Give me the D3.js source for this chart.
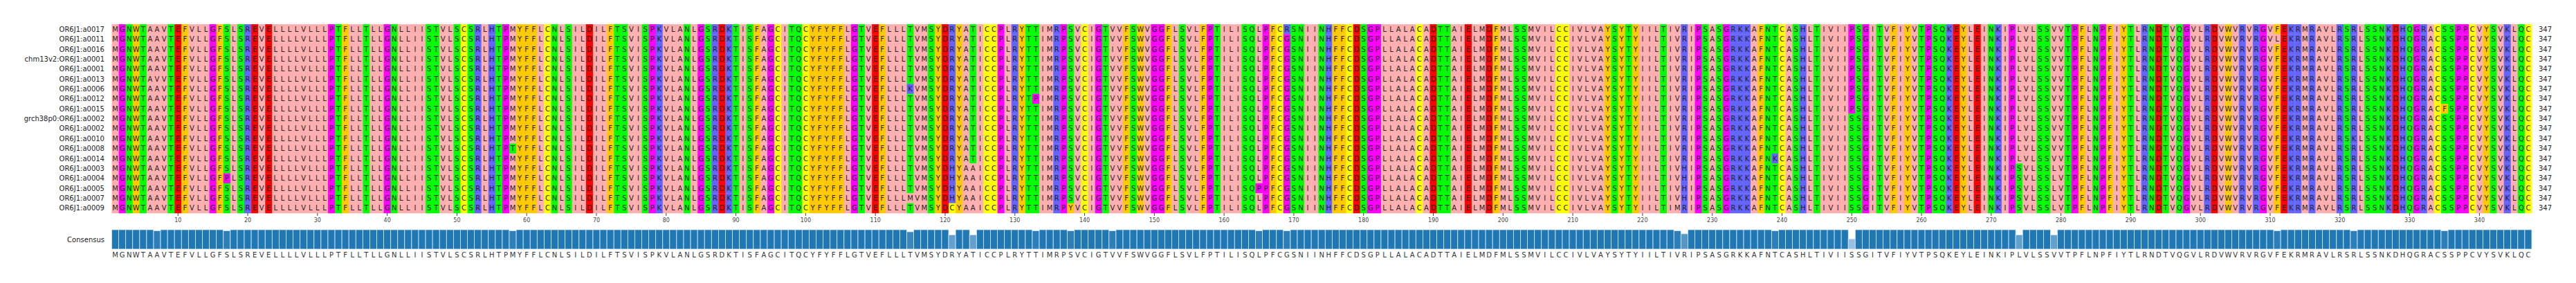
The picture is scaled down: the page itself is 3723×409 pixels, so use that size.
<!DOCTYPE html>
<html>
<head>
<meta charset="utf-8">
<script src="https://cdn.jsdelivr.net/npm/d3@7"></script>
<style>
  body { margin: 0; background: white; }
  text { font-family: "DejaVu Sans", sans-serif; }
</style>
</head>
<body>
<svg id="chart" width="3723" height="409"></svg>
<script>
// sequence names, top to bottom
const names = ["OR6J1:a0017", "OR6J1:a0011", "OR6J1:a0016", "chm13v2:OR6J1:a0001", "OR6J1:a0001",
  "OR6J1:a0013", "OR6J1:a0006", "OR6J1:a0012", "OR6J1:a0015", "grch38p0:OR6J1:a0002", "OR6J1:a0002",
  "OR6J1:a0010", "OR6J1:a0008", "OR6J1:a0014", "OR6J1:a0003", "OR6J1:a0004", "OR6J1:a0005",
  "OR6J1:a0007", "OR6J1:a0009"];

// consensus (most frequent residue per column)
const consensus =
  "MGNWTAAVTEFVLLGFSLSREVELLLLVLLLPTFLLTLLGNLLIISTVLSCSRLHTPM" +
  "YFFLCNLSILDILFTSVISPKVLANLGSRDKTISFAGCITQCYFYFFLGTVEFLLLTV" +
  "MSYDRYATICCPLRYTTIMRPSVCIGTVVFSWVGGFLSVLFPTILISQLPFCGSNII" +
  "NHFFCDSGPLLALACADTTAIELMDFMLSSMVILCCIVLVAYSYTYIILTIVRIPSA" +
  "SGRKKAFNTCASHLTIVIISSGITVFIYVTPSQKEYLEINKIPLVLSSVVTPFLNPFI" +
  "YTLRNDTVQGVLRDVWVRVRGVFEKRMRAVLRSRLSSNKDHQGRACSSPPCVYSVKLQC";

// differences from consensus: [row, column (1-based), residue]
const variants = [
  [5, 7, "V"], [15, 17, "P"], [12, 58, "T"], [6, 115, "K"], [17, 115, "M"],
  [14, 121, "H"], [15, 121, "H"], [16, 121, "H"], [17, 121, "H"], [18, 121, "C"],
  [14, 124, "A"], [15, 124, "A"], [16, 124, "A"], [17, 124, "A"], [18, 124, "A"],
  [7, 133, "P"], [18, 138, "Y"], [2, 144, "I"], [16, 165, "P"], [0, 169, "R"],
  [18, 225, "M"], [14, 226, "H"], [15, 226, "H"], [16, 226, "H"], [17, 226, "H"],
  [13, 239, "K"],
  [0, 250, "P"], [1, 250, "P"], [2, 250, "P"], [3, 250, "P"], [4, 250, "P"],
  [5, 250, "P"], [6, 250, "P"], [7, 250, "P"], [8, 250, "P"],
  [14, 274, "S"], [15, 274, "S"], [16, 274, "S"], [17, 274, "S"], [18, 274, "S"],
  [14, 279, "L"], [15, 279, "L"], [16, 279, "L"], [17, 279, "L"], [18, 279, "L"],
  [1, 311, "L"], [11, 322, "K"], [8, 335, "F"]
];

const tickValues = d3.range(10, 341, 10);

// zappo colours
const zappo = {A: "#ffafaf", V: "#ffafaf", L: "#ffafaf", I: "#ffafaf", M: "#ffafaf",
  F: "#ffc800", W: "#ffc800", Y: "#ffc800",
  G: "#ff00ff", P: "#ff00ff",
  S: "#00ff00", T: "#00ff00", N: "#00ff00", Q: "#00ff00",
  H: "#6464ff", K: "#6464ff", R: "#6464ff",
  D: "#ff0000", E: "#ff0000",
  C: "#ffff00"};

const seqs = names.map(() => consensus.split(""));
variants.forEach(([r, c, a]) => { seqs[r][c - 1] = a; });
const seqLen = consensus.length;
const cols = d3.range(1, seqLen + 1);

const svg = d3.select("#chart");
const x = d3.scaleBand().domain(cols).range([161.5, 3659]);
const y = d3.scaleBand().domain(names).range([35, 308]);

// cells
const cells = [];
seqs.forEach((s, r) => s.forEach((a, i) => cells.push({name: names[r], col: i + 1, aa: a})));

svg.append("g").selectAll("rect")
  .data(cells)
  .join("rect")
  .attr("x", d => x(d.col))
  .attr("y", d => y(d.name))
  .attr("width", x.bandwidth() + 0.3)
  .attr("height", y.bandwidth() + 0.3)
  .attr("fill", d => zappo[d.aa] || "white");

svg.append("g").selectAll("text")
  .data(cells)
  .join("text")
  .attr("x", d => x(d.col) + x.bandwidth() / 2)
  .attr("y", d => y(d.name) + y.bandwidth() / 2)
  .attr("dy", "0.36em")
  .attr("text-anchor", "middle")
  .attr("font-size", 10)
  .attr("fill", "#222")
  .text(d => d.aa);

// row names and lengths
svg.append("g").selectAll("text")
  .data(names)
  .join("text")
  .attr("x", 151)
  .attr("y", d => y(d) + y.bandwidth() / 2)
  .attr("dy", "0.36em")
  .attr("text-anchor", "end")
  .attr("font-size", 10)
  .attr("fill", "#222")
  .text(d => d);

svg.append("g").selectAll("text")
  .data(names)
  .join("text")
  .attr("x", 3669)
  .attr("y", d => y(d) + y.bandwidth() / 2)
  .attr("dy", "0.36em")
  .attr("font-size", 10)
  .attr("fill", "#222")
  .text(seqLen);

// position axis
const axis = svg.append("g")
  .attr("transform", "translate(0,308)")
  .call(d3.axisBottom(x).tickValues(tickValues).tickSize(4).tickPadding(3));
axis.select(".domain").remove();
axis.selectAll("line").attr("stroke", "#444");
axis.selectAll("text").attr("font-size", 8).attr("fill", "#444")
  .attr("font-family", "DejaVu Sans, sans-serif");

// conservation
const cons = cols.map(c => {
  const counts = d3.rollup(seqs, v => v.length, s => s[c - 1]);
  return {col: c, frac: d3.max(counts.values()) / seqs.length};
});
const h = d3.scaleLinear().domain([0, 1]).range([360, 332]);
const shade = d3.scaleLinear().domain([0.5, 1]).range(["#9fc5e4", "#1f77b4"]).clamp(true);

svg.append("g").selectAll("rect")
  .data(cons)
  .join("rect")
  .attr("x", d => x(d.col))
  .attr("y", d => h(d.frac))
  .attr("width", x.bandwidth())
  .attr("height", d => 360 - h(d.frac))
  .attr("fill", d => shade(d.frac))
  .attr("stroke", "#dce9f3")
  .attr("stroke-width", 0.8);

svg.append("text")
  .attr("x", 151)
  .attr("y", 346)
  .attr("dy", "0.36em")
  .attr("text-anchor", "end")
  .attr("font-size", 10)
  .attr("fill", "#222")
  .text("Consensus");

svg.append("g").selectAll("text")
  .data(cols)
  .join("text")
  .attr("x", d => x(d) + x.bandwidth() / 2)
  .attr("y", 368)
  .attr("dy", "0.36em")
  .attr("text-anchor", "middle")
  .attr("font-size", 10)
  .attr("fill", "#333")
  .text(d => consensus[d - 1]);
</script>
</body>
</html>
